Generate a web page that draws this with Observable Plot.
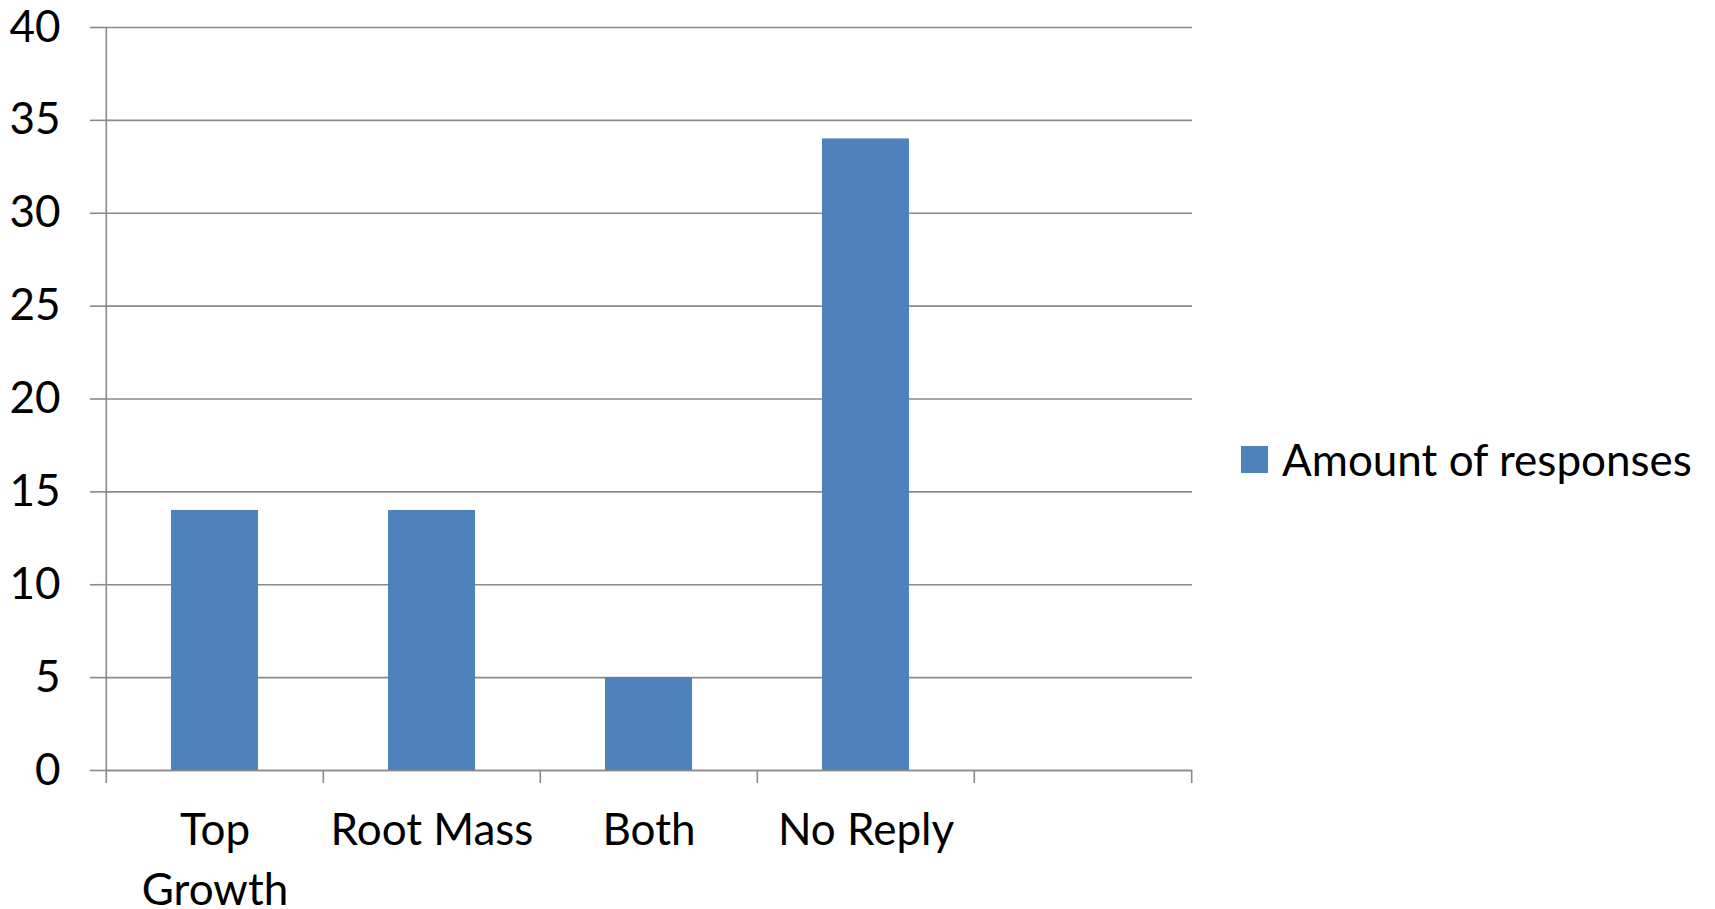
<!DOCTYPE html>
<html>
<head>
<meta charset="utf-8">
<script src="https://cdn.jsdelivr.net/npm/d3@7"></script>
<script src="https://cdn.jsdelivr.net/npm/@observablehq/plot@0.6"></script>
<style>
  html, body { margin: 0; padding: 0; background: #fff; }
  #wrap { position: relative; width: 1715px; height: 909px; font-family: Lato, sans-serif; }
  #legend { position: absolute; left: 1241px; top: 433px; display: flex; align-items: center; font-size: 44px; color: #000; white-space: nowrap; }
  #legend .sw { width: 27px; height: 27px; background: #4F81BD; margin-right: 14px; }
</style>
</head>
<body>
<div id="wrap"><div id="legend"><div class="sw"></div><span>Amount of responses</span></div></div>
<script>
const categories = ["Top Growth", "Root Mass", "Both", "No Reply", ""];
const values = [14, 14, 5, 34];
const tickLabels = ["Top\nGrowth", "Root Mass", "Both", "No Reply", ""];
const yTicks = [0, 5, 10, 15, 20, 25, 30, 35, 40];
const seriesName = "Amount of responses";

const W = 1715, H = 909;
const ml = 105, mr = 523, mt = 27, mb = 139;
const step = (W - ml - mr) / categories.length;
const data = values.map((v, i) => ({cat: categories[i], v}));
const gridColor = "#8a8a8a";

const chart = Plot.plot({
  width: W, height: H,
  marginLeft: ml, marginRight: mr, marginTop: mt, marginBottom: mb,
  style: {fontFamily: "Lato, sans-serif", fontSize: "44px", color: "#000", background: "#fff"},
  x: {domain: categories, paddingInner: 0.6, paddingOuter: 0.3},
  y: {domain: [0, 40]},
  marks: [
    Plot.gridY(yTicks, {stroke: gridColor, strokeOpacity: 1, strokeWidth: 1.6}),
    Plot.axisY(yTicks, {tickSize: 15, tickPadding: 30, stroke: gridColor, strokeWidth: 1.6, fill: "#000", label: null}),
    Plot.axisX({tickSize: 0, tickPadding: 32, tickFormat: (d) => tickLabels[categories.indexOf(d)], lineHeight: 1.36, fill: "#000", label: null}),
    Plot.barY(data, {x: "cat", y: "v", fill: "#4F81BD"}),
    Plot.ruleY([0], {stroke: gridColor, strokeWidth: 1.6}),
    // left axis line, extending below baseline
    Plot.ruleX([categories[0]], {dx: -step / 2, y1: 40, y2: 0, insetBottom: -13, stroke: gridColor, strokeWidth: 1.6}),
    // category boundary ticks
    Plot.ruleX(categories.slice(1), {dx: -step / 2, y1: 0, y2: 0, insetBottom: -13, stroke: gridColor, strokeWidth: 1.6}),
    Plot.ruleX([categories[categories.length - 1]], {dx: step / 2, y1: 0, y2: 0, insetBottom: -13, stroke: gridColor, strokeWidth: 1.6})
  ]
});
document.getElementById("wrap").prepend(chart);
</script>
</body>
</html>
